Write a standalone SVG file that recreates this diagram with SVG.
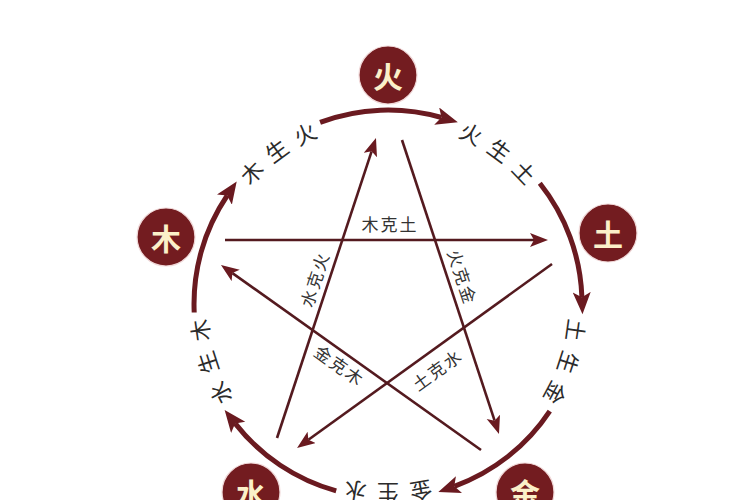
<svg xmlns="http://www.w3.org/2000/svg" width="750" height="500" viewBox="0 0 750 500">
<defs>
<style>
.arc{fill:none;stroke:#6a1a20;stroke-width:5;marker-end:url(#bigArrow)}
.ke{fill:none;stroke:#541a1f;stroke-width:2.6;marker-end:url(#smallArrow)}
.el{fill:#731c20;stroke:#f0d8d8;stroke-width:1.2}
.elt{font-family:"Noto Sans CJK SC","Noto Sans CJK JP",sans-serif;font-size:30px;font-weight:700;fill:#fbf0c9;text-anchor:middle;dominant-baseline:central}
.st{font-family:"Noto Sans CJK SC","Noto Sans CJK JP",sans-serif;font-size:22px;fill:#2b2b2b;text-anchor:middle;dominant-baseline:central}
.kt{font-family:"Noto Sans CJK SC","Noto Sans CJK JP",sans-serif;font-size:17px;fill:#333;text-anchor:middle;dominant-baseline:central;letter-spacing:2px}
</style>
<marker id="bigArrow" markerUnits="userSpaceOnUse" markerWidth="24" markerHeight="20" refX="5" refY="9" orient="auto">
<path d="M0,0 L22,9 L0,18 L5,9 z" fill="#6a1a20"/>
</marker>
<marker id="smallArrow" markerUnits="userSpaceOnUse" markerWidth="20" markerHeight="16" refX="4" refY="7" orient="auto">
<path d="M0,0 L18,7 L0,14 L4,7 z" fill="#6a1a20"/>
</marker>
</defs>
<rect width="750" height="500" fill="#ffffff"/>

<g id="connectors">
<path class="arc" d="M320.1,122.3 A194,194 0 0 1 441.5,117.5"/>
<path class="arc" d="M539.8,183.2 A194,194 0 0 1 581.9,297.2"/>
<path class="arc" d="M549.8,411.1 A194,194 0 0 1 454.3,486.3"/>
<path class="arc" d="M336.2,490.9 A194,194 0 0 1 235.1,423.4"/>
<path class="arc" d="M194.2,312.5 A194,194 0 0 1 227.2,195.5"/>
<path class="ke" d="M225,240 L534,240"/>
<path class="ke" d="M402,140 L494.6,420.7"/>
<path class="ke" d="M552,264 L308.4,439.8"/>
<path class="ke" d="M481,450 L232.4,273.1"/>
<path class="ke" d="M277,438 L371.6,151.3"/>
</g>

<g id="cycle-labels">
<g id="label-huo-sheng-tu">
<text class="st" x="388" y="113" transform="rotate(26 388 304)">火</text>
<text class="st" x="388" y="113" transform="rotate(36 388 304)">生</text>
<text class="st" x="388" y="113" transform="rotate(46 388 304)">土</text>
</g>
<g id="label-tu-sheng-jin">
<text class="st" x="388" y="113" transform="rotate(98 388 304)">土</text>
<text class="st" x="388" y="113" transform="rotate(108 388 304)">生</text>
<text class="st" x="388" y="113" transform="rotate(118 388 304)">金</text>
</g>
<g id="label-jin-sheng-shui">
<text class="st" x="388" y="113" transform="rotate(170 388 304)">金</text>
<text class="st" x="388" y="113" transform="rotate(180 388 304)">生</text>
<text class="st" x="388" y="113" transform="rotate(190 388 304)">水</text>
</g>
<g id="label-shui-sheng-mu">
<text class="st" x="388" y="113" transform="rotate(242 388 304)">水</text>
<text class="st" x="388" y="113" transform="rotate(252 388 304)">生</text>
<text class="st" x="388" y="113" transform="rotate(262 388 304)">木</text>
</g>
<g id="label-mu-sheng-huo">
<text class="st" x="388" y="113" transform="rotate(-46 388 304)">木</text>
<text class="st" x="388" y="113" transform="rotate(-36 388 304)">生</text>
<text class="st" x="388" y="113" transform="rotate(-26 388 304)">火</text>
</g>
</g>

<g id="control-labels">
<text class="kt" x="390" y="223">木克土</text>
<text class="kt" x="463" y="277" transform="rotate(71.6 463 277)">火克金</text>
<text class="kt" x="314" y="279" transform="rotate(-71.7 314 279)">水克火</text>
<text class="kt" x="340" y="365" transform="rotate(35.3 340 365)">金克木</text>
<text class="kt" x="437" y="369" transform="rotate(-35.5 437 369)">土克水</text>
</g>

<g id="node-huo">
<circle class="el" cx="388" cy="75" r="29"/>
<text class="elt" x="388" y="75">火</text>
</g>
<g id="node-tu">
<circle class="el" cx="608" cy="233" r="29"/>
<text class="elt" x="608" y="233">土</text>
</g>
<g id="node-jin">
<circle class="el" cx="525" cy="492" r="29"/>
<text class="elt" x="525" y="492">金</text>
</g>
<g id="node-shui">
<circle class="el" cx="251" cy="492" r="29"/>
<text class="elt" x="251" y="492">水</text>
</g>
<g id="node-mu">
<circle class="el" cx="166" cy="237" r="29"/>
<text class="elt" x="166" y="237">木</text>
</g>
</svg>
